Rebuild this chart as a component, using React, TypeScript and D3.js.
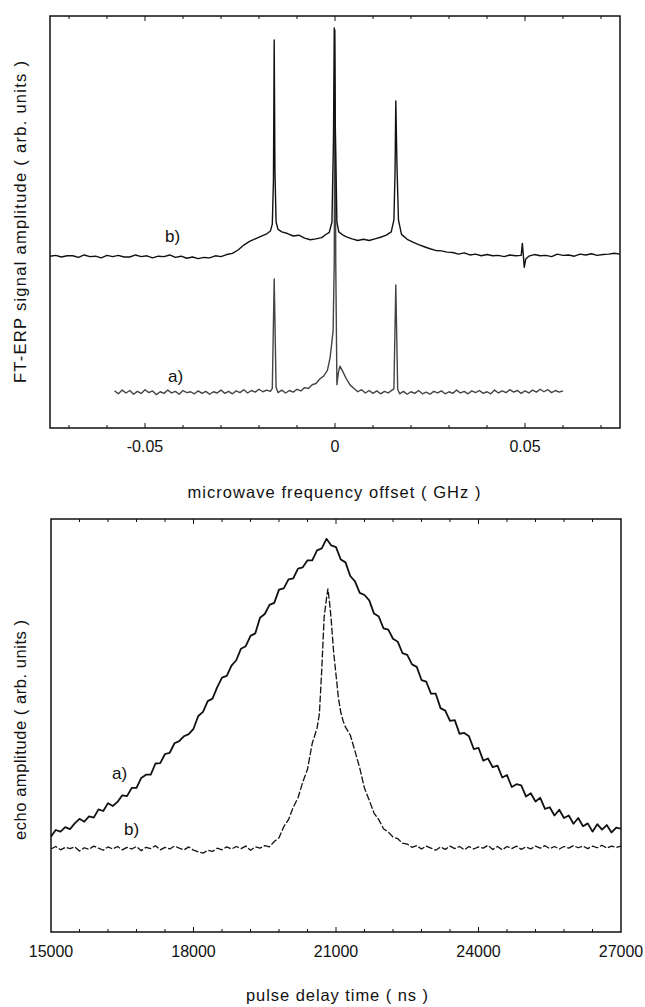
import * as d3 from 'd3';

const FONT = '"Liberation Sans", Arial, Helvetica, sans-serif';

// ---- top panel: FT-ERP spectra, [frequency offset (GHz), amplitude (arb.)]
const specB: [number, number][] = [
  [-0.075, 41.7], [-0.0735, 41.9], [-0.072, 41.5], [-0.0705, 41.8], [-0.069, 41.8],
  [-0.0675, 41.4], [-0.066, 42.0], [-0.0645, 41.6], [-0.063, 41.7], [-0.0615, 41.3],
  [-0.06, 41.9], [-0.0585, 41.6], [-0.057, 41.9], [-0.0555, 41.5], [-0.054, 41.5],
  [-0.0525, 42.0], [-0.051, 41.6], [-0.0495, 41.8], [-0.048, 41.3], [-0.0465, 41.7],
  [-0.045, 41.6], [-0.0435, 42.0], [-0.042, 41.4], [-0.0405, 41.7], [-0.039, 41.2],
  [-0.0375, 41.5], [-0.036, 41.1], [-0.0345, 41.4], [-0.033, 41.3], [-0.0315, 41.8],
  [-0.03, 41.6], [-0.0285, 42.1], [-0.027, 42.4], [-0.0255, 43.2], [-0.024, 44.4],
  [-0.0225, 45.3], [-0.021, 45.9], [-0.0195, 46.5], [-0.018, 47.1], [-0.017, 47.8],
  [-0.0165, 49.5], [-0.0162, 60], [-0.016, 94.2], [-0.0158, 62], [-0.0155, 50.0],
  [-0.015, 48.2], [-0.014, 47.6], [-0.0125, 47.2], [-0.011, 46.6], [-0.0095, 46.8],
  [-0.008, 46.1], [-0.0065, 45.7], [-0.005, 45.9], [-0.0035, 46.2], [-0.0025, 46.9],
  [-0.0015, 47.5], [-0.0008, 50], [-0.0004, 70], [-0.0002, 97.1], [0.0001, 72],
  [0.0005, 50], [0.001, 47.6], [0.002, 46.9], [0.003, 46.4], [0.0045, 45.9],
  [0.006, 45.5], [0.0075, 45.8], [0.009, 45.5], [0.0105, 45.9], [0.012, 46.3],
  [0.0135, 46.8], [0.0148, 47.6], [0.0155, 50.5], [0.0158, 62], [0.016, 79.4],
  [0.0163, 64], [0.0167, 50.5], [0.0175, 47.0], [0.019, 45.8], [0.0205, 45.1],
  [0.022, 44.5], [0.0235, 44.0], [0.025, 43.5], [0.0265, 43.1], [0.028, 43.0],
  [0.0295, 42.7], [0.031, 42.6], [0.0325, 42.2], [0.034, 42.5], [0.0355, 42.0],
  [0.037, 42.2], [0.0385, 41.8], [0.04, 42.1], [0.0415, 41.8], [0.043, 41.9],
  [0.0445, 41.6], [0.046, 42.0], [0.0475, 41.8], [0.049, 41.9], [0.0493, 44.8],
  [0.0496, 41.5], [0.0498, 39.0], [0.0502, 41.0], [0.051, 41.7], [0.0525, 42.1],
  [0.054, 41.8], [0.0555, 41.9], [0.057, 41.6], [0.0585, 42.2], [0.06, 41.9],
  [0.0615, 42.0], [0.063, 41.7], [0.0645, 42.2], [0.066, 42.0], [0.0675, 42.3],
  [0.069, 41.9], [0.0705, 42.1], [0.072, 42.2], [0.0735, 42.4], [0.075, 42.2],
];

const specA: [number, number][] = [
  [-0.058, 9.0], [-0.057, 8.3], [-0.056, 9.2], [-0.055, 8.5], [-0.054, 9.1],
  [-0.053, 8.2], [-0.052, 8.9], [-0.051, 8.4], [-0.05, 9.3], [-0.049, 8.6],
  [-0.048, 9.0], [-0.047, 8.1], [-0.046, 8.8], [-0.045, 8.4], [-0.044, 9.2],
  [-0.043, 8.5], [-0.042, 8.9], [-0.041, 8.2], [-0.04, 9.1], [-0.039, 8.6],
  [-0.038, 8.8], [-0.037, 8.3], [-0.036, 9.0], [-0.035, 8.4], [-0.034, 8.9],
  [-0.033, 8.2], [-0.032, 8.8], [-0.031, 8.5], [-0.03, 9.2], [-0.029, 8.4],
  [-0.028, 8.9], [-0.027, 8.3], [-0.026, 9.0], [-0.025, 8.6], [-0.024, 9.3],
  [-0.023, 8.5], [-0.022, 9.1], [-0.021, 8.7], [-0.02, 9.4], [-0.019, 8.8],
  [-0.018, 9.2], [-0.017, 8.9], [-0.0165, 9.6], [-0.016, 36.2], [-0.0155, 9.8],
  [-0.015, 8.6], [-0.014, 9.2], [-0.013, 8.5], [-0.012, 9.1], [-0.011, 8.7],
  [-0.01, 9.4], [-0.009, 9.0], [-0.008, 9.8], [-0.007, 9.6], [-0.006, 10.5],
  [-0.005, 10.8], [-0.004, 11.9], [-0.003, 12.6], [-0.002, 14.0], [-0.0013, 17.0],
  [-0.0005, 23.5], [-0.0002, 40], [0.0, 96.6], [0.0002, 40], [0.0005, 10.5],
  [0.0009, 13.5], [0.0013, 15.0], [0.002, 13.8], [0.003, 11.9], [0.004, 10.4],
  [0.005, 9.6], [0.006, 8.8], [0.007, 9.3], [0.008, 8.5], [0.009, 9.1],
  [0.01, 8.4], [0.011, 9.0], [0.012, 8.3], [0.013, 8.9], [0.014, 8.5],
  [0.015, 9.2], [0.0155, 9.5], [0.016, 34.7], [0.0165, 9.4], [0.017, 8.3],
  [0.018, 8.9], [0.019, 8.2], [0.02, 8.8], [0.021, 8.4], [0.022, 9.1],
  [0.023, 8.3], [0.024, 8.7], [0.025, 8.2], [0.026, 8.9], [0.027, 8.5],
  [0.028, 9.0], [0.029, 8.3], [0.03, 8.8], [0.031, 8.4], [0.032, 9.2],
  [0.033, 8.5], [0.034, 8.9], [0.035, 8.3], [0.036, 9.0], [0.037, 8.6],
  [0.038, 9.1], [0.039, 8.4], [0.04, 8.8], [0.041, 8.3], [0.042, 9.2],
  [0.043, 8.5], [0.044, 9.0], [0.045, 8.6], [0.046, 9.3], [0.047, 8.7],
  [0.048, 9.1], [0.049, 8.4], [0.05, 9.0], [0.051, 8.5], [0.052, 9.2],
  [0.053, 8.7], [0.054, 9.4], [0.055, 8.8], [0.056, 9.3], [0.057, 8.6],
  [0.058, 9.1], [0.059, 8.7], [0.06, 9.0],
];

const freqLabels = [-0.05, 0, 0.05];

// ---- bottom panel: echo amplitude vs pulse delay (ns)
const delayStart = 15000;
const delayStep = 100;
// curve a), one value every 100 ns from 15000 to 27000
const echoA = [
  23.1, 24.7, 24.3, 25.4, 24.9, 26.3, 27.4, 26.7, 28.0, 27.7,
  29.7, 29.3, 31.2, 30.5, 31.5, 33.1, 32.9, 34.9, 34.9, 37.3,
  38.1, 38.1, 40.8, 40.9, 43.1, 43.4, 45.7, 46.2, 47.4, 47.9,
  49.2, 52.3, 53.3, 55.9, 56.5, 59.3, 61.6, 62.0, 64.5, 65.8,
  68.6, 69.2, 71.7, 72.3, 76.1, 77.0, 79.2, 79.7, 82.9, 83.2,
  85.4, 85.6, 88.0, 88.3, 90.0, 90.0, 92.4, 92.9, 95.2, 93.6,
  93.2, 90.2, 89.5, 86.2, 84.9, 82.1, 81.6, 80.3, 77.1, 76.4,
  73.5, 73.2, 71.0, 70.3, 67.5, 67.1, 64.8, 64.2, 61.0, 60.6,
  57.7, 57.7, 54.2, 53.6, 51.1, 51.3, 48.0, 48.2, 47.4, 44.3,
  44.6, 41.5, 42.0, 39.9, 40.3, 37.4, 38.0, 35.1, 35.8, 35.5,
  32.8, 33.6, 31.6, 32.5, 29.8, 30.2, 28.2, 29.6, 27.6, 28.2,
  26.2, 27.6, 25.6, 26.3, 24.3, 26.1, 24.8, 25.9, 24.1, 25.3,
  25.0,
];

const echoB: [number, number][] = [
  [15000, 20.1], [15100, 20.7], [15200, 19.9], [15300, 20.5], [15400, 20.2],
  [15500, 20.6], [15600, 19.6], [15700, 20.4], [15800, 20.0], [15900, 20.8],
  [16000, 20.3], [16100, 19.8], [16200, 20.6], [16300, 20.1], [16400, 20.7],
  [16500, 19.9], [16600, 20.5], [16700, 20.1], [16800, 20.7], [16900, 19.7],
  [17000, 20.5], [17100, 20.2], [17200, 20.9], [17300, 19.9], [17400, 20.5],
  [17500, 20.1], [17600, 20.8], [17700, 20.3], [17800, 19.9], [17900, 20.6],
  [18000, 19.8], [18100, 19.4], [18200, 19.1], [18300, 19.8], [18400, 19.5],
  [18500, 20.3], [18600, 19.9], [18700, 20.6], [18800, 20.1], [18900, 20.7],
  [19000, 20.2], [19100, 20.8], [19200, 19.8], [19300, 20.6], [19400, 20.3],
  [19500, 20.9], [19600, 20.6], [19700, 21.9], [19800, 22.8], [19900, 25.5],
  [20000, 27.2], [20100, 30.2], [20200, 32.5], [20300, 36.3], [20400, 39.4],
  [20500, 45.7], [20600, 49.3], [20650, 52.8], [20700, 63.5], [20750, 76.2],
  [20800, 80.8], [20830, 83.1], [20870, 79.2], [20900, 75.4], [20950, 67.8],
  [21000, 62.3], [21050, 56.8], [21100, 53.2], [21150, 51.1], [21200, 49.6],
  [21300, 47.7], [21400, 43.8], [21500, 39.7], [21600, 34.8], [21700, 31.9],
  [21800, 28.8], [21900, 27.2], [22000, 25.0], [22100, 24.2], [22200, 23.0],
  [22300, 22.6], [22400, 21.5], [22500, 21.3], [22600, 20.5], [22700, 20.9],
  [22800, 20.1], [22900, 20.8], [23000, 20.3], [23100, 19.8], [23200, 20.6],
  [23300, 20.0], [23400, 20.8], [23500, 20.2], [23600, 20.7], [23700, 19.9],
  [23800, 20.7], [23900, 20.1], [24000, 20.6], [24100, 20.3], [24200, 21.0],
  [24300, 20.0], [24400, 20.7], [24500, 19.9], [24600, 20.7], [24700, 20.2],
  [24800, 20.8], [24900, 20.0], [25000, 20.6], [25100, 20.1], [25200, 20.8],
  [25300, 20.3], [25400, 20.9], [25500, 20.2], [25600, 20.7], [25700, 20.1],
  [25800, 20.7], [25900, 20.3], [26000, 20.9], [26100, 20.4], [26200, 20.8],
  [26300, 20.2], [26400, 20.8], [26500, 20.4], [26600, 21.0], [26700, 20.3],
  [26800, 20.8], [26900, 20.5], [27000, 20.8],
];

const delayLabels = [15000, 18000, 21000, 24000, 27000];

const topBox = { left: 50, right: 620, top: 16, bottom: 428 };
const botBox = { left: 51, right: 621, top: 519, bottom: 932 };

export default function App() {
  const xT = d3.scaleLinear().domain([-0.075, 0.075]).range([topBox.left, topBox.right]);
  const yT = d3.scaleLinear().domain([0, 100]).range([topBox.bottom, topBox.top]);
  const xB = d3.scaleLinear().domain([15000, 27000]).range([botBox.left, botBox.right]);
  const yB = d3.scaleLinear().domain([0, 100]).range([botBox.bottom, botBox.top]);

  const lineT = d3.line<[number, number]>().x((d) => xT(d[0])).y((d) => yT(d[1]));
  const lineB = d3.line<[number, number]>().x((d) => xB(d[0])).y((d) => yB(d[1]));

  const echoAPts = echoA.map((v, i) => [delayStart + i * delayStep, v] as [number, number]);

  const topTicks = xT.ticks(15);
  const botTicks = d3.range(15600, 27000, 600);

  return (
    <svg
      width={645}
      height={1007}
      style={{ position: 'absolute', left: 0, top: 0, background: '#fff' }}
      fontFamily={FONT}
    >
      <rect width={645} height={1007} fill="#fff" />

      {/* top panel */}
      <g>
        {topTicks.map((t) => {
          const len = freqLabels.some((l) => Math.abs(l - t) < 1e-9) ? 5 : 3;
          return (
            <g key={t} stroke="#111" strokeWidth={1}>
              <line x1={xT(t)} x2={xT(t)} y1={topBox.bottom} y2={topBox.bottom - len} />
              <line x1={xT(t)} x2={xT(t)} y1={topBox.top} y2={topBox.top + len} />
            </g>
          );
        })}
        <path d={lineT(specA) ?? ''} fill="none" stroke="#444" strokeWidth={1.4} strokeLinejoin="round" />
        <path d={lineT(specB) ?? ''} fill="none" stroke="#111" strokeWidth={1.4} strokeLinejoin="round" />
        <rect
          x={topBox.left}
          y={topBox.top}
          width={topBox.right - topBox.left}
          height={topBox.bottom - topBox.top}
          fill="none"
          stroke="#111"
          strokeWidth={1.5}
        />
        {freqLabels.map((l) => (
          <text key={l} x={xT(l)} y={topBox.bottom + 24} textAnchor="middle" fontSize={16} fill="#111">
            {l === 0 ? '0' : l.toString()}
          </text>
        ))}
        <text x={165} y={242} fontSize={17} fill="#111">b)</text>
        <text x={168} y={382} fontSize={17} fill="#111">a)</text>
        <text x={334} y={498} textAnchor="middle" fontSize={16.5} textLength={293} fill="#111">
          microwave frequency offset ( GHz )
        </text>
        <text
          transform="translate(26,222) rotate(-90)"
          textAnchor="middle"
          fontSize={16.5}
          textLength={322}
          fill="#111"
        >
          FT-ERP signal amplitude ( arb. units )
        </text>
      </g>

      {/* bottom panel */}
      <g>
        {botTicks.map((t) => {
          const len = delayLabels.includes(t) ? 5 : 3;
          return (
            <g key={t} stroke="#111" strokeWidth={1}>
              <line x1={xB(t)} x2={xB(t)} y1={botBox.bottom} y2={botBox.bottom - len} />
              <line x1={xB(t)} x2={xB(t)} y1={botBox.top} y2={botBox.top + len} />
            </g>
          );
        })}
        <path
          d={lineB(echoB) ?? ''}
          fill="none"
          stroke="#111"
          strokeWidth={1.3}
          strokeDasharray="7,2"
          strokeLinejoin="round"
        />
        <path d={lineB(echoAPts) ?? ''} fill="none" stroke="#111" strokeWidth={1.8} strokeLinejoin="round" />
        <rect
          x={botBox.left}
          y={botBox.top}
          width={botBox.right - botBox.left}
          height={botBox.bottom - botBox.top}
          fill="none"
          stroke="#111"
          strokeWidth={1.5}
        />
        {delayLabels.map((l) => (
          <text key={l} x={xB(l)} y={botBox.bottom + 25} textAnchor="middle" fontSize={16} fill="#111">
            {l}
          </text>
        ))}
        <text x={112} y={779} fontSize={17} fill="#111">a)</text>
        <text x={124} y={835} fontSize={17} fill="#111">b)</text>
        <text x={337} y={1001} textAnchor="middle" fontSize={16.5} textLength={182} fill="#111">
          pulse delay time ( ns )
        </text>
        <text
          transform="translate(26,730) rotate(-90)"
          textAnchor="middle"
          fontSize={16.5}
          textLength={220}
          fill="#111"
        >
          echo amplitude ( arb. units )
        </text>
      </g>
    </svg>
  );
}
